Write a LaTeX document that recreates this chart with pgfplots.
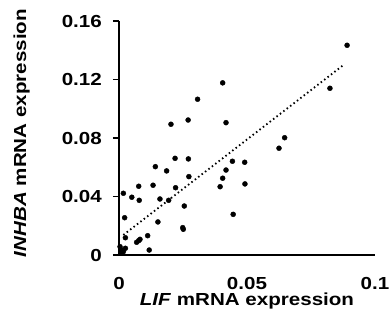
\documentclass[border=0pt]{standalone}
\usepackage{pgfplots}
\pgfplotsset{compat=1.18}
\usepackage{fontspec}
\setmainfont{Liberation Sans}[FakeStretch=1.18]
\begin{document}
\begin{tikzpicture}
\fontsize{17.5}{21}\selectfont
\begin{axis}[
  scale only axis,
  width=256bp, height=234bp,
  xmin=0, xmax=0.1, ymin=0, ymax=0.16,
  axis lines=left,
  axis line style={line width=1.7bp, -},
  xtick={0,0.05,0.1}, xticklabels={0,0.05,0.1},
  ytick={0,0.04,0.08,0.12,0.16}, yticklabels={0,0.04,0.08,0.12,0.16},
  tick align=outside,
  major tick length=6bp,
  xtick style={draw=none},
  ytick style={line width=1.7bp, black},
  /pgf/number format/assume math mode=true,
  ticklabel style={font=\fontsize{17.5}{21}\selectfont\bfseries, inner sep=0pt},
  xticklabel style={anchor=north, yshift=-16bp},
  yticklabel style={anchor=east, xshift=-11bp},
  xlabel={\textbf{\textit{LIF} mRNA expression}},
  ylabel={\textbf{\textit{INHBA} mRNA expression}},
  label style={font=\fontsize{17.5}{21}\selectfont, inner sep=0pt},
  xlabel style={at={(axis description cs:0.5,0)}, anchor=north, yshift=-38bp},
  ylabel style={at={(axis description cs:0,0.5)}, anchor=south, rotate=0, xshift=5bp, yshift=89bp},
  clip=false,
]
\addplot[only marks, mark=*, mark size=2.5bp, black] coordinates {
(0.0017,0.0422) (0.0050,0.0395) (0.0079,0.0374) (0.0077,0.0470)
(0.0022,0.0255) (0.0025,0.0118) (0.0069,0.0087) (0.0077,0.0098)
(0.0082,0.0107) (0.0112,0.0132) (0.0118,0.0034) (0.0004,0.0057)
(0.0012,0.0034) (0.0025,0.0046) (0.0007,0.0016) (0.0017,0.0023)
(0.0142,0.0604) (0.0133,0.0477) (0.0160,0.0383) (0.0152,0.0226)
(0.0186,0.0575) (0.0219,0.0661) (0.0271,0.0657) (0.0273,0.0536)
(0.0221,0.0460) (0.0194,0.0374) (0.0255,0.0335) (0.0249,0.0187)
(0.0251,0.0176) (0.0418,0.0581) (0.0405,0.0525) (0.0395,0.0467)
(0.0443,0.0641) (0.0491,0.0634) (0.0492,0.0486) (0.0446,0.0278)
(0.0203,0.0894) (0.0270,0.0923) (0.0307,0.1065) (0.0405,0.1177)
(0.0418,0.0905) (0.0891,0.1434) (0.0824,0.1140) (0.0647,0.0802)
(0.0625,0.0730)
};
\addplot[black, line width=1.8bp, dash pattern=on 1.5bp off 2.8bp] coordinates {
(0.0017,0.0137) (0.0879,0.1302)
};
\end{axis}
\path (-119bp,-71bp) rectangle (271bp,255bp);
\end{tikzpicture}
\end{document}
